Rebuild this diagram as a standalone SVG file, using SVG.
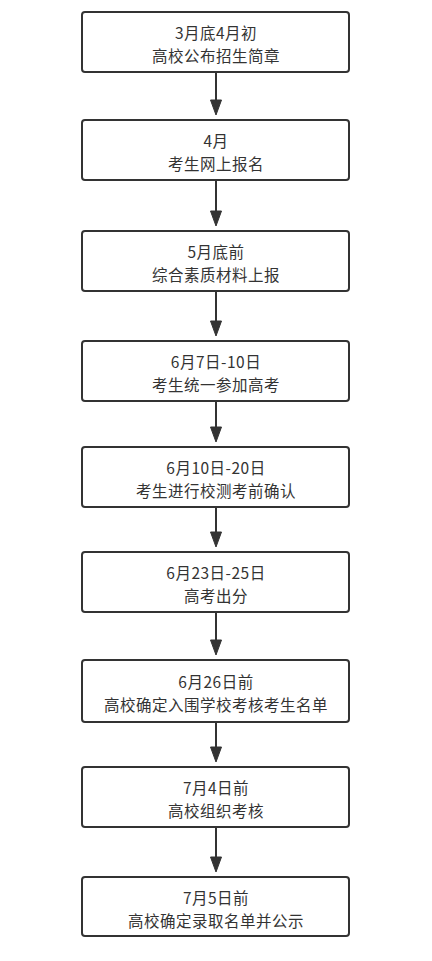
<svg xmlns="http://www.w3.org/2000/svg" width="432" height="961" viewBox="0 0 432 961">
<defs>
<style>
.box{fill:#ffffff;stroke:#333333;stroke-width:2}
.t{font-family:"Noto Sans CJK SC","Noto Sans",sans-serif;font-size:15.5px;letter-spacing:0.5px;fill:#333333;text-anchor:middle}
.c{stroke:#333333;stroke-width:2;fill:none}
.ah{fill:#333333;stroke:#333333;stroke-width:1}
</style>
</defs>
<rect width="432" height="961" fill="#ffffff"/>
<g id="connectors">
<line class="c" x1="216" y1="72" x2="216" y2="102"/><polygon class="ah" points="210.5,100 221.5,100 216,115"/>
<line class="c" x1="216" y1="180" x2="216" y2="213"/><polygon class="ah" points="210.5,211 221.5,211 216,226"/>
<line class="c" x1="216" y1="291" x2="216" y2="323"/><polygon class="ah" points="210.5,321 221.5,321 216,336"/>
<line class="c" x1="216" y1="401" x2="216" y2="429"/><polygon class="ah" points="210.5,427 221.5,427 216,442"/>
<line class="c" x1="216" y1="507" x2="216" y2="534"/><polygon class="ah" points="210.5,532 221.5,532 216,547"/>
<line class="c" x1="216" y1="612" x2="216" y2="642"/><polygon class="ah" points="210.5,640 221.5,640 216,655"/>
<line class="c" x1="216" y1="722" x2="216" y2="749"/><polygon class="ah" points="210.5,747 221.5,747 216,762"/>
<line class="c" x1="216" y1="827" x2="216" y2="859"/><polygon class="ah" points="210.5,857 221.5,857 216,872"/>
</g>
<g id="n1"><rect class="box" x="82" y="12" width="267" height="60" rx="3"/><text class="t" x="216" y="39">3月底4月初</text><text class="t" x="216" y="61.5">高校公布招生简章</text></g>
<g id="n2"><rect class="box" x="82" y="120" width="267" height="60" rx="3"/><text class="t" x="216" y="147">4月</text><text class="t" x="216" y="169.5">考生网上报名</text></g>
<g id="n3"><rect class="box" x="82" y="231" width="267" height="60" rx="3"/><text class="t" x="216" y="258">5月底前</text><text class="t" x="216" y="280.5">综合素质材料上报</text></g>
<g id="n4"><rect class="box" x="82" y="341" width="267" height="60" rx="3"/><text class="t" x="216" y="368">6月7日-10日</text><text class="t" x="216" y="390.5">考生统一参加高考</text></g>
<g id="n5"><rect class="box" x="82" y="447" width="267" height="60" rx="3"/><text class="t" x="216" y="474">6月10日-20日</text><text class="t" x="216" y="496.5">考生进行校测考前确认</text></g>
<g id="n6"><rect class="box" x="82" y="552" width="267" height="60" rx="3"/><text class="t" x="216" y="579">6月23日-25日</text><text class="t" x="216" y="601.5">高考出分</text></g>
<g id="n7"><rect class="box" x="82" y="660" width="267" height="62" rx="3"/><text class="t" x="216" y="688">6月26日前</text><text class="t" x="216" y="710.5">高校确定入围学校考核考生名单</text></g>
<g id="n8"><rect class="box" x="82" y="767" width="267" height="60" rx="3"/><text class="t" x="216" y="794">7月4日前</text><text class="t" x="216" y="816.5">高校组织考核</text></g>
<g id="n9"><rect class="box" x="82" y="877" width="267" height="59" rx="3"/><text class="t" x="216" y="904">7月5日前</text><text class="t" x="216" y="926.5">高校确定录取名单并公示</text></g>
</svg>
